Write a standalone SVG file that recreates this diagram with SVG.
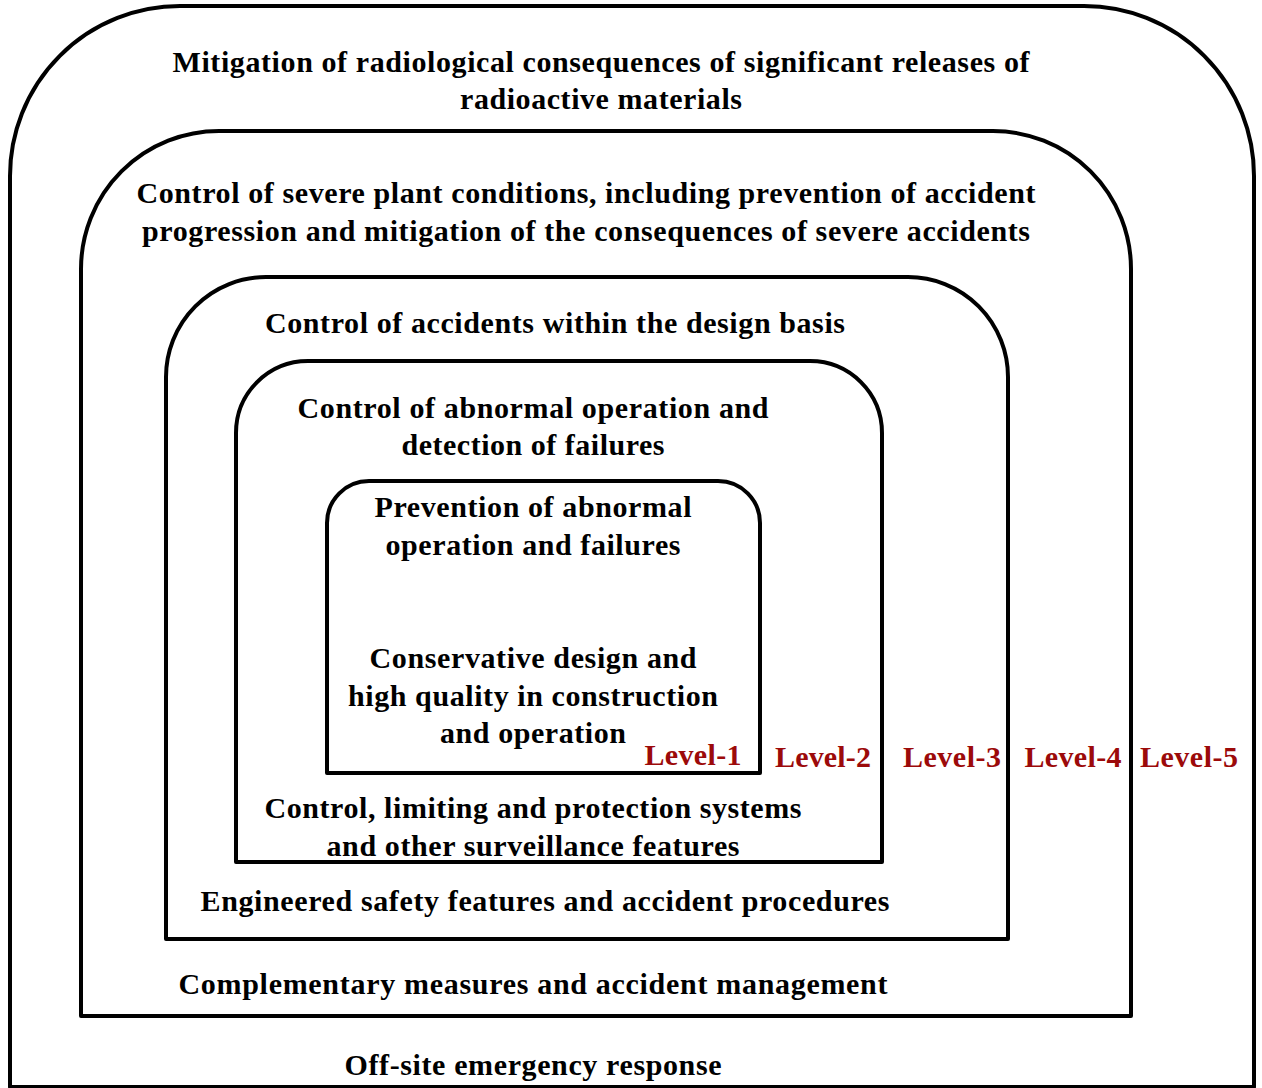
<svg xmlns="http://www.w3.org/2000/svg" width="1262" height="1088" viewBox="0 0 1262 1088">
  <style>
    .frame { fill: none; stroke: #000; stroke-width: 4; stroke-linejoin: round; }
    .t { font-family: 'Liberation Serif', 'Times New Roman', Times, serif; font-weight: 700; font-size: 30px; fill: #000; text-anchor: middle; }
    .lvl { font-family: 'Liberation Serif', 'Times New Roman', Times, serif; font-weight: 700; font-size: 30px; fill: #9c0a0a; text-anchor: middle; }
  </style>
  <rect width="1262" height="1088" fill="#fff"/>

  <!-- Level 5: off-site emergency response -->
  <g id="level5">
    <path class="frame" d="M10,1087 V176 A170,170 0 0 1 180,6 H1084 A170,170 0 0 1 1254,176 V1087 Z"/>
    <text class="t" x="601" y="72" textLength="857" lengthAdjust="spacing">Mitigation of radiological consequences of significant releases of</text>
    <text class="t" x="601" y="109" textLength="282" lengthAdjust="spacing">radioactive materials</text>
    <text class="t" x="533" y="1075" textLength="377" lengthAdjust="spacing">Off-site emergency response</text>
    <text class="lvl" x="1189" y="767" textLength="98" lengthAdjust="spacing">Level-5</text>
  </g>

  <!-- Level 4: severe plant conditions -->
  <g id="level4">
    <path class="frame" d="M81,1016 V269 A138,138 0 0 1 219,131 H993 A138,138 0 0 1 1131,269 V1016 Z"/>
    <text class="t" x="586" y="203" textLength="899" lengthAdjust="spacing">Control of severe plant conditions, including prevention of accident</text>
    <text class="t" x="586" y="241" textLength="888" lengthAdjust="spacing">progression and mitigation of the consequences of severe accidents</text>
    <text class="t" x="533" y="994" textLength="709" lengthAdjust="spacing">Complementary measures and accident management</text>
    <text class="lvl" x="1073" y="767" textLength="97" lengthAdjust="spacing">Level-4</text>
  </g>

  <!-- Level 3: design basis accidents -->
  <g id="level3">
    <path class="frame" d="M166,939 V377 A100,100 0 0 1 266,277 H908 A100,100 0 0 1 1008,377 V939 Z"/>
    <text class="t" x="555" y="333" textLength="580" lengthAdjust="spacing">Control of accidents within the design basis</text>
    <text class="t" x="545" y="911" textLength="689" lengthAdjust="spacing">Engineered safety features and accident procedures</text>
    <text class="lvl" x="952" y="767" textLength="98" lengthAdjust="spacing">Level-3</text>
  </g>

  <!-- Level 2: abnormal operation -->
  <g id="level2">
    <path class="frame" d="M236,862 V433 A72,72 0 0 1 308,361 H810 A72,72 0 0 1 882,433 V862 Z"/>
    <text class="t" x="533" y="418" textLength="471" lengthAdjust="spacing">Control of abnormal operation and</text>
    <text class="t" x="533" y="455" textLength="263" lengthAdjust="spacing">detection of failures</text>
    <text class="t" x="533" y="818" textLength="537" lengthAdjust="spacing">Control, limiting and protection systems</text>
    <text class="t" x="533" y="856" textLength="413" lengthAdjust="spacing">and other surveillance features</text>
    <text class="lvl" x="823" y="767" textLength="96" lengthAdjust="spacing">Level-2</text>
  </g>

  <!-- Level 1: prevention -->
  <g id="level1">
    <path class="frame" d="M327,773 V523 A42,42 0 0 1 369,481 H718 A42,42 0 0 1 760,523 V773 Z"/>
    <text class="t" x="533" y="517" textLength="317" lengthAdjust="spacing">Prevention of abnormal</text>
    <text class="t" x="533" y="555" textLength="295" lengthAdjust="spacing">operation and failures</text>
    <text class="t" x="533" y="668" textLength="327" lengthAdjust="spacing">Conservative design and</text>
    <text class="t" x="533" y="706" textLength="370" lengthAdjust="spacing">high quality in construction</text>
    <text class="t" x="533" y="743" textLength="186" lengthAdjust="spacing">and operation</text>
    <text class="lvl" x="693" y="765" textLength="97" lengthAdjust="spacing">Level-1</text>
  </g>

  <g id="connectors"/>
</svg>
